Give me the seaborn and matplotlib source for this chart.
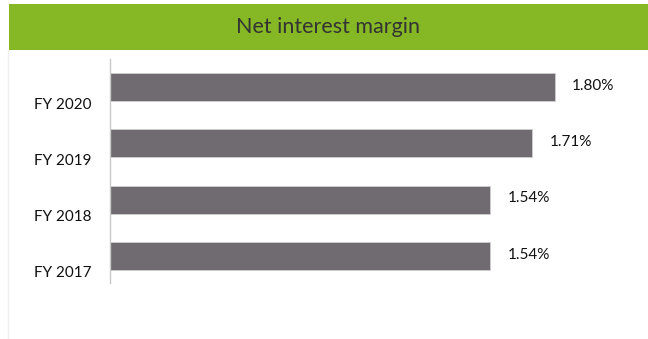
import matplotlib
matplotlib.use("Agg")
import matplotlib.pyplot as plt
from matplotlib.patches import Rectangle
from matplotlib.lines import Line2D
from matplotlib.transforms import ScaledTranslation
import seaborn as sns
import pandas as pd

years = ["FY 2020", "FY 2019", "FY 2018", "FY 2017"]
margins = [1.80, 1.71, 1.54, 1.54]
value_labels = ["1.80%", "1.71%", "1.54%", "1.54%"]
title = "Net interest margin"

sns.set_theme(style="white")
plt.rcParams["font.family"] = ["Lato", "DejaVu Sans"]

df = pd.DataFrame({"year": years, "margin": margins})

fig = plt.figure(figsize=(6.48, 3.39), dpi=100)
W, H = 648, 339

# green title banner
fig.patches.append(Rectangle((9 / W, 1 - 50 / H), 1 - 9 / W, 46 / H,
                             transform=fig.transFigure, facecolor="#86b825",
                             edgecolor="none", zorder=0))
fig.text((9 + 648) / 2 / W, 1 - 27 / H, title, ha="center", va="center",
         fontsize=15.5, fontweight="normal", color="#333333")
# faint frame edge on the left
fig.lines.append(Line2D([8 / W, 8 / W], [0, 1 - 50 / H], transform=fig.transFigure,
                        color="#eeeeee", lw=1))

ax = fig.add_axes([110 / W, 1 - 283 / H, (640 - 110) / W, 224 / H])
sns.barplot(data=df, x="margin", y="year", orient="h", color="#6f6b70",
            width=0.5, saturation=1, edgecolor="#cfcfcf", linewidth=0.6, ax=ax)

ax.set_xlim(0, (640 - 110) / 247)
ax.set_ylim(3.48, -0.5)
ax.set_xlabel("")
ax.set_ylabel("")
ax.set_xticks([])
for s in ["top", "right", "bottom"]:
    ax.spines[s].set_visible(False)
ax.spines["left"].set_color("#c8c8c8")
ax.spines["left"].set_linewidth(1)

ax.tick_params(axis="y", length=0, pad=13, labelsize=11, labelcolor="#111111")
off = ScaledTranslation(0, -16 / 100, fig.dpi_scale_trans)
for lbl in ax.get_yticklabels():
    lbl.set_transform(lbl.get_transform() + off)

for i, (v, t) in enumerate(zip(margins, value_labels)):
    ax.annotate(t, (v, i), xytext=(12.5, 1), textcoords="offset points",
                va="center", ha="left", fontsize=11, color="#111111")

fig.savefig("out.png", dpi=100, facecolor="white")
